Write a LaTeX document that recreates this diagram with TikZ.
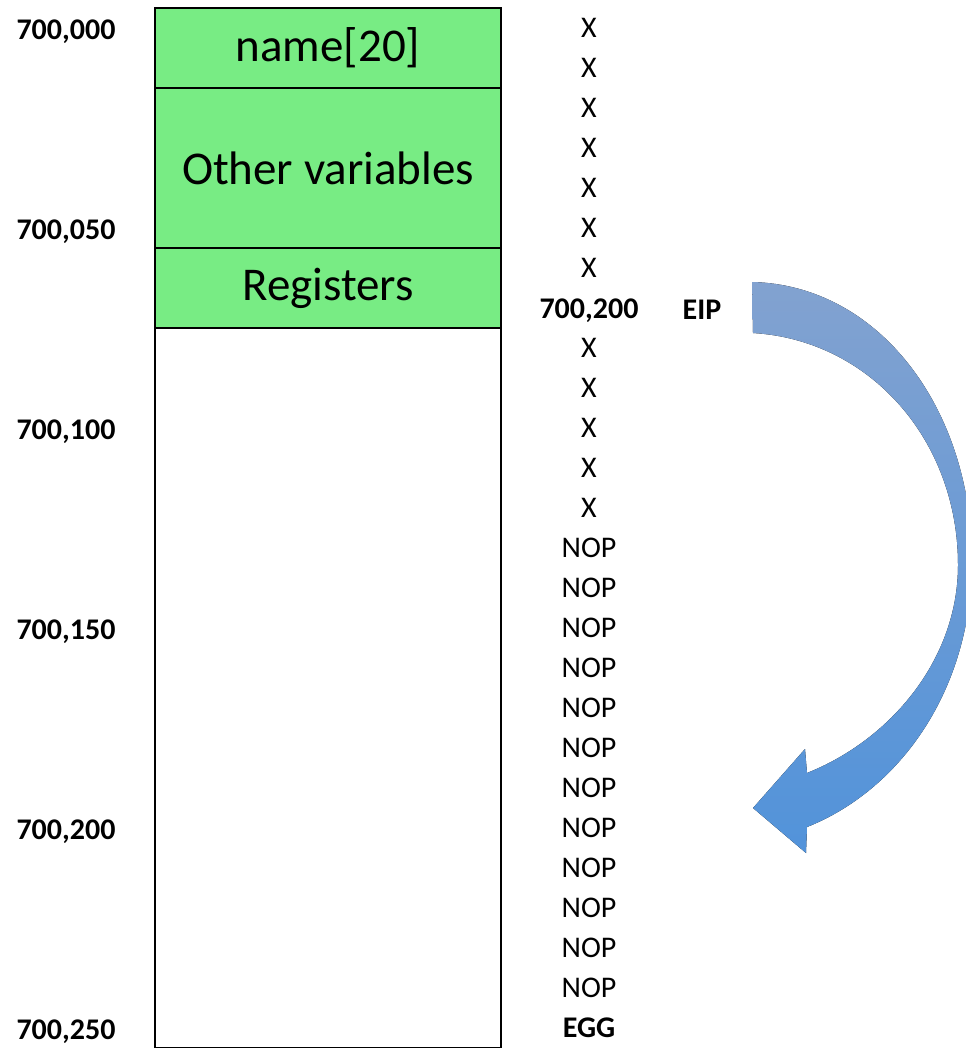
\documentclass[tikz,border=0pt]{standalone}
\usepackage{fontspec}
\setmainfont{Carlito}

\definecolor{stackgreen}{RGB}{120,236,132}
\definecolor{arrowtop}{RGB}{130,162,208}
\definecolor{arrowbot}{RGB}{82,147,218}

\tikzset{
  addr/.style={font=\fontsize{15}{18}\selectfont\bfseries},
  cell/.style={font=\fontsize{15}{18}\selectfont},
  region/.style={font=\fontsize{23.5}{28}\selectfont},
}

\begin{document}
\begin{tikzpicture}[x=0.5pt,y=-0.5pt]
        \useasboundingbox (0,0) rectangle (965,1048);

        % stack frame
        \draw[line width=1pt,fill=stackgreen] (155,8) rectangle (501,88);
        \node[region] (name) at (328,48) {name[20]};
        \draw[line width=1pt,fill=stackgreen] (155,88) rectangle (501,248);
        \node[region] (other) at (328,168) {Other variables};
        \draw[line width=1pt,fill=stackgreen] (155,248) rectangle (501,328);
        \node[region] (regs) at (328,288) {Registers};
        \draw[line width=1pt] (155,328) rectangle (501,1048);

        % addresses on the left
        \foreach \a [count=\i from 0] in {000,050,100,150,200,250}
            \node[addr] (a\a) at (66,32+200*\i) {700,\a};

        % what the overflow writes
        \foreach \i in {0,...,6}
            \node[cell] (x\i) at (589,28+40*\i) {X};
        \node[addr] (ret) at (589,311) {700,200};
        \node[addr] (eip) at (702,310) {EIP};
        \foreach \i in {8,...,12}
            \node[cell] (x\i) at (589,28+40*\i) {X};
        \foreach \i in {13,...,24}
            \node[cell] (nop\i) at (589,28+40*\i) {NOP};
        \node[addr] (egg) at (589,1028) {EGG};

        % jump back into the nops
        \fill[top color=arrowtop,bottom color=arrowbot]
            (752,282) .. controls (880,285) and (972,410) .. (972,560)
            .. controls (972,690) and (900,790) .. (807,827)
            -- (806,853) -- (753,808) -- (805,749) -- (807,773)
            .. controls (890,740) and (958,660) .. (958,565)
            .. controls (958,440) and (870,340) .. (753,333) -- cycle;
\end{tikzpicture}
\end{document}
